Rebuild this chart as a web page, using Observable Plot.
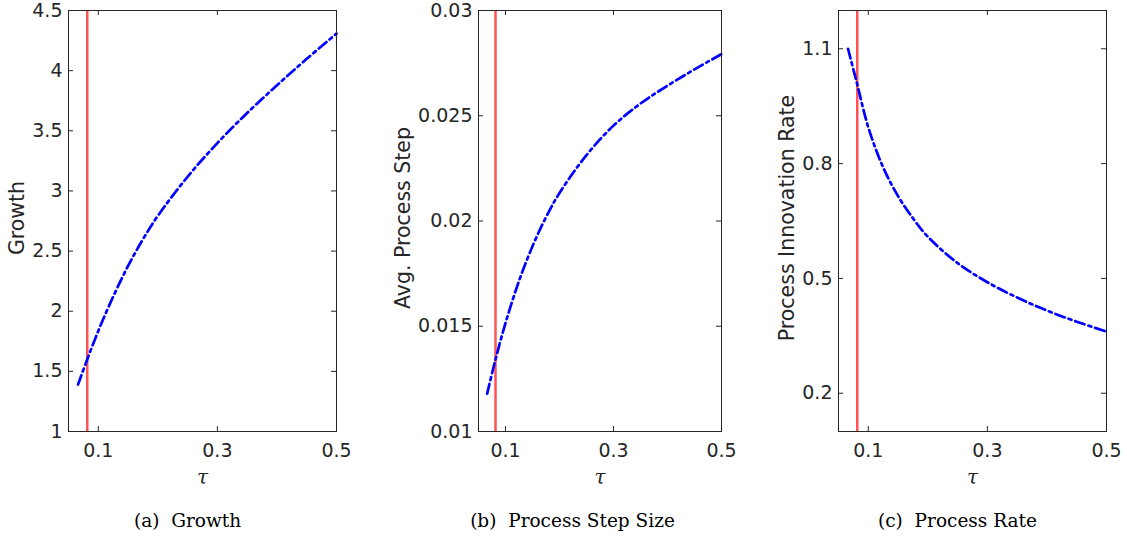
<!DOCTYPE html>
<html><head><meta charset="utf-8">
<script src="https://cdn.jsdelivr.net/npm/d3@7"></script>
<script src="https://cdn.jsdelivr.net/npm/@observablehq/plot@0.6"></script>
<style>
body{margin:0;background:#fff;}
#fig{position:relative;width:1127px;height:537px;overflow:hidden;background:#fff}
.panel{position:absolute;top:0}
.panel svg g[aria-label$="tick label"]{font-size:19px;font-family:"DejaVu Sans";}
.cap{position:absolute;top:510px;font-family:"DejaVu Serif";font-size:18.5px;color:#000;white-space:pre;transform:translateX(-50%)}
</style></head><body><div id="fig"></div><script>
// ---- data ----
const tau      = [0.066, 0.08, 0.1, 0.125, 0.15, 0.175, 0.2, 0.25, 0.3, 0.35, 0.4, 0.45, 0.5];
const growth   = [1.39, 1.58, 1.836, 2.121, 2.376, 2.598, 2.793, 3.118, 3.398, 3.648, 3.878, 4.098, 4.308];
const stepSize = [0.0118, 0.01327, 0.01515, 0.01715, 0.0188, 0.02018, 0.02133, 0.02313, 0.02453, 0.02558, 0.02643, 0.0272, 0.02793];
const procRate = [1.10, 1.016, 0.895, 0.79, 0.715, 0.657, 0.609, 0.540, 0.490, 0.450, 0.416, 0.387, 0.361];
const tauStar = 0.0815;
const xTicks = [0.1, 0.3, 0.5];
const growthTicks = [1, 1.5, 2, 2.5, 3, 3.5, 4, 4.5];
const stepTicks = [0.01, 0.015, 0.02, 0.025, 0.03];
const rateTicks = [0.2, 0.5, 0.8, 1.1];
const yLabels = ["Growth", "Avg. Process Step", "Process Innovation Rate"];
const captions = ["(a)  Growth", "(b)  Process Step Size", "(c)  Process Rate"];

// ---- layout ----
const panels = [
  {values: growth,   domain: [1, 4.5],     ticks: growthTicks, left: 0,   width: 370, mL: 68,  mR: 34, labDx: -51, capX: 187.5},
  {values: stepSize, domain: [0.01, 0.03], ticks: stepTicks,   left: 375, width: 370, mL: 103, mR: 24, labDx: -75, capX: 572.5},
  {values: procRate, domain: [0.1, 1.2],   ticks: rateTicks,   left: 750, width: 377, mL: 88,  mR: 21, labDx: -51, capX: 957.5}
];
const H = 500, mT = 10, mB = 69;
const ink = "#262626";
const fig = document.getElementById("fig");

panels.forEach((p, i) => {
  const data = tau.map((t, j) => ({t, v: p.values[j]}));
  const pw = p.width - p.mL - p.mR, ph = H - mT - mB;
  const chart = Plot.plot({
    width: p.width, height: H,
    marginLeft: p.mL, marginRight: p.mR, marginTop: mT, marginBottom: mB,
    style: {fontFamily: "DejaVu Sans", fontSize: "19px", color: ink, background: "transparent", overflow: "visible"},
    x: {domain: [0.05, 0.5], ticks: xTicks, tickSize: 0, tickPadding: 12, tickFormat: d => String(d), label: null},
    y: {domain: p.domain, ticks: p.ticks, tickSize: 0, tickPadding: 6, tickFormat: d => String(d), label: null},
    marks: [
      Plot.ruleX([tauStar], {x: d => d, stroke: "#ff5252", strokeWidth: 2.5}),
      Plot.line(data, {x: "t", y: "v", stroke: "#0000ff", strokeWidth: 2.7, strokeDasharray: "10,4,3,4", curve: "catmull-rom"}),
      Plot.frame({stroke: ink, strokeWidth: 1}),
      Plot.tickX(xTicks, {x: d => d, stroke: ink, insetTop: ph - 5}),
      Plot.tickX(xTicks, {x: d => d, stroke: ink, insetBottom: ph - 5}),
      Plot.tickY(p.ticks, {y: d => d, stroke: ink, insetRight: pw - 5}),
      Plot.tickY(p.ticks, {y: d => d, stroke: ink, insetLeft: pw - 5}),
      Plot.text([yLabels[i]], {text: d => d, frameAnchor: "left", textAnchor: "middle", rotate: -90, dx: p.labDx, dy: -3, fontSize: 20.5, fill: ink}),
      Plot.text(["τ"], {text: d => d, frameAnchor: "bottom", dy: 52, fontFamily: "DejaVu Serif", fontStyle: "italic", fontSize: 20, fill: ink})
    ]
  });
  const div = document.createElement("div");
  div.className = "panel";
  div.style.left = p.left + "px";
  div.appendChild(chart);
  fig.appendChild(div);
  const cap = document.createElement("div");
  cap.className = "cap";
  cap.style.left = p.capX + "px";
  cap.textContent = captions[i];
  fig.appendChild(cap);
});
</script></body></html>
